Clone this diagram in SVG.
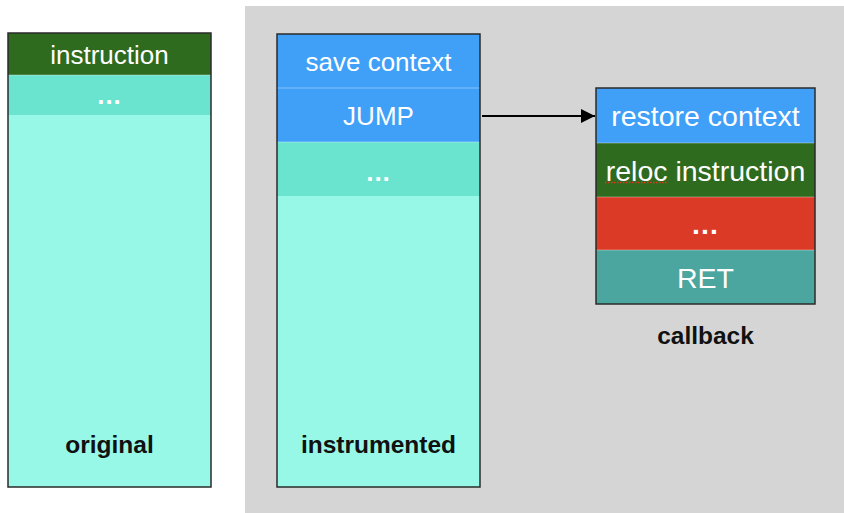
<svg xmlns="http://www.w3.org/2000/svg" width="844" height="513" viewBox="0 0 844 513">
  <defs>
    <marker id="arrowhead" viewBox="0 0 10 10" refX="10" refY="5" markerWidth="14" markerHeight="14" markerUnits="userSpaceOnUse" orient="auto">
      <path d="M0,0 L10,5 L0,10 z" fill="#000"/>
    </marker>
    <style>
      .frame { fill: none; stroke: #2b2b2b; stroke-width: 1.5; }
      .sep { stroke: #ffffff; stroke-opacity: 0.35; stroke-width: 1; }
      .cell { font-family: "Liberation Sans", Arial, sans-serif; font-size: 26px; fill: #ffffff; text-anchor: middle; }
      .dots { font-weight: bold; letter-spacing: 1px; }
      .cb { font-size: 28.5px; }
      .caption { font-family: "Liberation Sans", Arial, sans-serif; font-size: 24.5px; font-weight: bold; fill: #111; text-anchor: middle; }
      .body { fill: #98f8e8; }
      .band { fill: #6ae3cf; }
      .green { fill: #2f6b1f; }
      .blue { fill: #40a0f8; }
      .red { fill: #db3a26; }
      .ret { fill: #4aa69e; }
    </style>
  </defs>

  <rect x="0" y="0" width="844" height="513" fill="#ffffff"/>
  <!-- shaded area behind the instrumented side -->
  <rect x="245" y="6" width="599" height="507" fill="#d5d5d5"/>

  <!-- original code -->
  <g id="original">
    <rect class="body" x="8" y="33" width="203" height="454"/>
    <rect class="green" x="8" y="33" width="203" height="42"/>
    <rect class="band" x="8" y="75" width="203" height="40"/>
    <line class="sep" x1="8" y1="75" x2="211" y2="75"/>
    <rect class="frame" x="8" y="33" width="203" height="454"/>
    <text class="cell" x="109.5" y="63.5">instruction</text>
    <text class="cell dots" x="109.5" y="104">...</text>
    <text class="caption" x="109.5" y="453">original</text>
  </g>

  <!-- instrumented code -->
  <g id="instrumented">
    <rect class="body" x="277" y="34" width="203" height="453"/>
    <rect class="blue" x="277" y="34" width="203" height="54"/>
    <rect class="blue" x="277" y="88" width="203" height="54"/>
    <rect class="band" x="277" y="142" width="203" height="54"/>
    <line class="sep" x1="277" y1="88" x2="480" y2="88"/>
    <line class="sep" x1="277" y1="142" x2="480" y2="142"/>
    <rect class="frame" x="277" y="34" width="203" height="453"/>
    <text class="cell" x="378.5" y="70.5">save context</text>
    <text class="cell" x="378.5" y="124.5">JUMP</text>
    <text class="cell dots" x="378.5" y="181">...</text>
    <text class="caption" x="378.5" y="453">instrumented</text>
  </g>

  <!-- callback routine -->
  <g id="callback">
    <rect class="blue" x="596" y="88" width="219" height="55"/>
    <rect class="green" x="596" y="143" width="219" height="54"/>
    <rect class="red" x="596" y="197" width="219" height="53"/>
    <rect class="ret" x="596" y="250" width="219" height="54"/>
    <line class="sep" x1="596" y1="143" x2="815" y2="143"/>
    <line class="sep" x1="596" y1="197" x2="815" y2="197"/>
    <line class="sep" x1="596" y1="250" x2="815" y2="250"/>
    <rect class="frame" x="596" y="88" width="219" height="216"/>
    <text class="cell cb" x="705.5" y="126">restore context</text>
    <text class="cell cb" x="705.5" y="180.5">reloc instruction</text>
    <line x1="605" y1="182.5" x2="667" y2="182.5" stroke="#e8341f" stroke-width="1.5" stroke-dasharray="1.5 1.5"/>
    <text class="cell cb dots" x="705.5" y="234">...</text>
    <text class="cell cb" x="705.5" y="287.5">RET</text>
    <text class="caption" x="705.5" y="344">callback</text>
  </g>

  <!-- control transfer -->
  <g id="connectors">
    <line x1="482" y1="116" x2="595" y2="116" stroke="#000" stroke-width="2" marker-end="url(#arrowhead)"/>
  </g>
</svg>
